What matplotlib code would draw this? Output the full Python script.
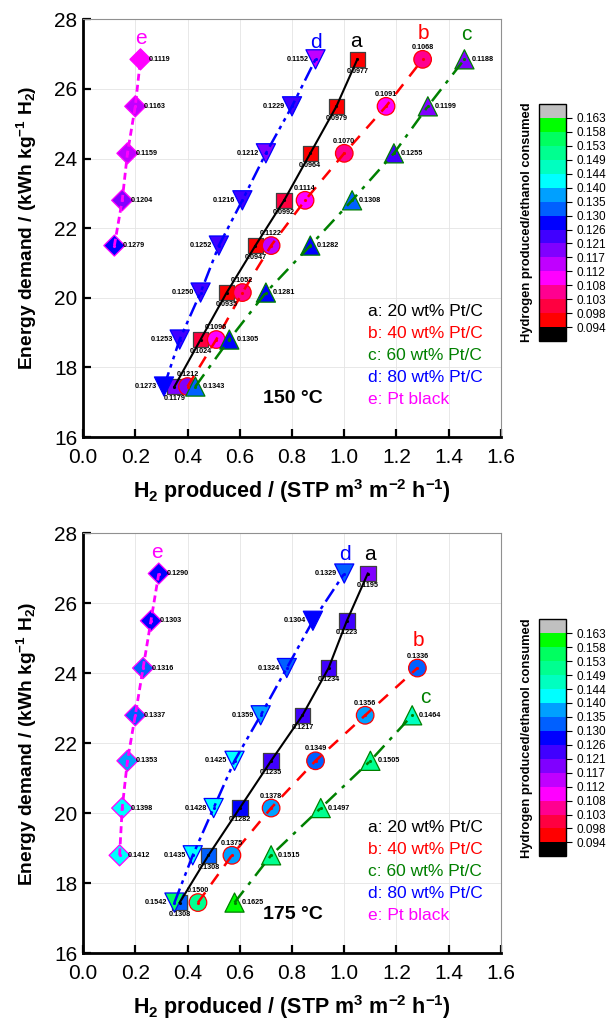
import matplotlib

matplotlib.use("Agg")
import matplotlib.pyplot as plt
from matplotlib.cm import ScalarMappable
from matplotlib.colors import from_levels_and_colors

plt.rcParams["font.family"] = ["Liberation Sans", "DejaVu Sans"]
plt.rcParams["mathtext.default"] = "regular"

# ---- 150 °C panel ----
X150_A = [0.35, 0.45, 0.55, 0.66, 0.77, 0.87, 0.97, 1.05]
Y150_A = [17.45, 18.8, 20.15, 21.5, 22.8, 24.15, 25.5, 26.85]
R150_A = [0.1179, 0.1024, 0.0935, 0.0947, 0.0992, 0.0964, 0.0979, 0.0977]

X150_B = [0.40, 0.51, 0.61, 0.72, 0.85, 1.00, 1.16, 1.30]
Y150_B = [17.45, 18.8, 20.15, 21.5, 22.8, 24.15, 25.5, 26.85]
R150_B = [0.1212, 0.1096, 0.1052, 0.1122, 0.1114, 0.1070, 0.1091, 0.1068]

X150_C = [0.43, 0.56, 0.70, 0.87, 1.03, 1.19, 1.32, 1.46]
Y150_C = [17.45, 18.8, 20.15, 21.5, 22.8, 24.15, 25.5, 26.85]
R150_C = [0.1343, 0.1305, 0.1281, 0.1282, 0.1308, 0.1255, 0.1199, 0.1188]

X150_D = [0.31, 0.37, 0.45, 0.52, 0.61, 0.70, 0.80, 0.89]
Y150_D = [17.45, 18.8, 20.15, 21.5, 22.8, 24.15, 25.5, 26.85]
R150_D = [0.1273, 0.1253, 0.1250, 0.1252, 0.1216, 0.1212, 0.1229, 0.1152]

X150_E = [0.12, 0.15, 0.17, 0.20, 0.22]
Y150_E = [21.5, 22.8, 24.15, 25.5, 26.85]
R150_E = [0.1279, 0.1204, 0.1159, 0.1163, 0.1119]

# ---- 175 °C panel ----
X175_A = [0.37, 0.48, 0.60, 0.72, 0.84, 0.94, 1.01, 1.09]
Y175_A = [17.45, 18.8, 20.15, 21.5, 22.8, 24.15, 25.5, 26.85]
R175_A = [0.1308, 0.1308, 0.1282, 0.1235, 0.1217, 0.1234, 0.1223, 0.1195]

X175_B = [0.44, 0.57, 0.72, 0.89, 1.08, 1.28]
Y175_B = [17.45, 18.8, 20.15, 21.5, 22.8, 24.15]
R175_B = [0.1500, 0.1375, 0.1378, 0.1349, 0.1356, 0.1336]

X175_C = [0.58, 0.72, 0.91, 1.10, 1.26]
Y175_C = [17.45, 18.8, 20.15, 21.5, 22.8]
R175_C = [0.1625, 0.1515, 0.1497, 0.1505, 0.1464]

X175_D = [0.35, 0.42, 0.50, 0.58, 0.68, 0.78, 0.88, 1.00]
Y175_D = [17.45, 18.8, 20.15, 21.5, 22.8, 24.15, 25.5, 26.85]
R175_D = [0.1542, 0.1435, 0.1428, 0.1425, 0.1359, 0.1324, 0.1304, 0.1329]

X175_E = [0.14, 0.15, 0.17, 0.20, 0.23, 0.26, 0.29]
Y175_E = [18.8, 20.15, 21.5, 22.8, 24.15, 25.5, 26.85]
R175_E = [0.1412, 0.1398, 0.1353, 0.1337, 0.1316, 0.1303, 0.1290]

# colour scale (ratio H2 produced / ethanol consumed)
CBAR_BOUNDS = [0.0935, 0.0984, 0.1030, 0.1076, 0.1122, 0.1168, 0.1213, 0.1259,
               0.1306, 0.1350, 0.1396, 0.1442, 0.1488, 0.1533, 0.1579, 0.1626]
CBAR_TICKLABELS = ["0.094", "0.098", "0.103", "0.108", "0.112", "0.117", "0.121", "0.126",
                   "0.130", "0.135", "0.140", "0.144", "0.149", "0.153", "0.158", "0.163"]
CBAR_COLORS = ["#ff0000", "#ff0040", "#ff0090", "#ff00ff", "#c000ff", "#8000ff",
               "#4000ff", "#0000ff", "#0060ff", "#00a0ff", "#00ffff", "#00ffc0",
               "#00ff90", "#00ff60", "#00ff00"]
CBAR_UNDER = "black"
CBAR_OVER = "#c0c0c0"

LEGEND_TEXT = ["a: 20 wt% Pt/C", "b: 40 wt% Pt/C", "c: 60 wt% Pt/C", "d: 80 wt% Pt/C", "e: Pt black"]
SERIES_COLORS = ["black", "red", "#008000", "blue", "magenta"]

cmap, norm = from_levels_and_colors(CBAR_BOUNDS, [CBAR_UNDER] + CBAR_COLORS + [CBAR_OVER], extend="both")

# marker, edge colour, line style, label offset (pt), label alignment
STYLES = {
    "a": dict(marker="s", size=125, edge="#404040", ls="-", lw=1.5, off=(0, -6), ha="center", va="top"),
    "b": dict(marker="o", size=160, edge="red", ls=(0, (5, 4)), lw=1.8, off=(0, 6), ha="center", va="bottom"),
    "c": dict(marker="^", size=190, edge="#008000", ls=(0, (6, 3, 1.5, 3)), lw=1.8, off=(5, 0), ha="left", va="center"),
    "d": dict(marker="v", size=190, edge="blue", ls=(0, (6, 2, 1.5, 2, 1.5, 2)), lw=1.8, off=(-5, 0), ha="right", va="center"),
    "e": dict(marker="D", size=115, edge="magenta", ls=(0, (2.5, 1.5)), lw=2.0, off=(6, 0), ha="left", va="center"),
}


def draw_series(ax, key, xs, ys, ratios, color):
    st = STYLES[key]
    ax.scatter(xs, ys, c=ratios, cmap=cmap, norm=norm, marker=st["marker"], s=st["size"],
               edgecolors=st["edge"], linewidths=0.9, zorder=3)
    ax.plot(xs, ys, color=color, linestyle=st["ls"], linewidth=st["lw"], zorder=4)
    ax.plot(xs, ys, linestyle="none", marker=".", markersize=2.5, color=color, zorder=4)
    for x, y, r in zip(xs, ys, ratios):
        ax.annotate(f"{r:.4f}", (x, y), xytext=st["off"], textcoords="offset points",
                    ha=st["ha"], va=st["va"], fontsize=5.2, fontweight="bold", zorder=5)


def draw_panel(ax, series, letters, temp_label):
    for (key, xs, ys, rs), color in zip(series, SERIES_COLORS):
        draw_series(ax, key, xs, ys, rs, color)

    for key, (lx, ly), color in letters:
        ax.text(lx, ly, key, color=color, fontsize=15, ha="center", va="center")

    for i, (txt, color) in enumerate(zip(LEGEND_TEXT, SERIES_COLORS)):
        ax.text(1.09, 19.6 - i * 0.63, txt, color=color, fontsize=12.5, ha="left", va="center")

    ax.text(0.805, 17.1, temp_label, fontsize=14, fontweight="bold", ha="center", va="center")

    ax.set_xlim(0.0, 1.6)
    ax.set_ylim(16, 28)
    ax.set_xticks([0.0, 0.2, 0.4, 0.6, 0.8, 1.0, 1.2, 1.4, 1.6])
    ax.set_yticks([16, 18, 20, 22, 24, 26, 28])
    ax.xaxis.set_major_formatter(plt.FormatStrFormatter("%.1f"))
    ax.grid(True, color="#e4e4e4", linewidth=0.6, zorder=0)
    ax.set_axisbelow(True)
    ax.tick_params(direction="in", length=6, width=1.6, labelsize=15, top=False, right=False)
    ax.tick_params(axis="x", pad=8)
    ax.tick_params(axis="y", pad=4)
    for side in ["left", "bottom"]:
        ax.spines[side].set_linewidth(2.0)
        ax.spines[side].set_color("black")
    for side in ["top", "right"]:
        ax.spines[side].set_linewidth(0.8)
        ax.spines[side].set_color("#909090")

    ax.set_xlabel("H$_2$ produced / (STP m$^3$ m$^{-2}$ h$^{-1}$)", fontsize=15.5, fontweight="bold", labelpad=7)
    ax.set_ylabel("Energy demand / (kWh kg$^{-1}$ H$_2$)", fontsize=13.8, fontweight="bold", labelpad=11)


def draw_colorbar(fig, rect):
    cax = fig.add_axes(rect)
    sm = ScalarMappable(norm=norm, cmap=cmap)
    cb = fig.colorbar(sm, cax=cax, extend="both", extendrect=True, extendfrac=1 / 15,
                      ticks=CBAR_BOUNDS, drawedges=False)
    cb.ax.set_yticklabels(CBAR_TICKLABELS)
    cb.outline.set_linewidth(1.0)
    cb.ax.tick_params(labelsize=8.5, length=4, width=0.8, direction="out")
    cb.ax.yaxis.set_label_position("left")
    cb.set_label("Hydrogen produced/ethanol consumed", fontsize=9.3, fontweight="bold", labelpad=4)
    return cb


fig = plt.figure(figsize=(6.1, 10.22), dpi=100)

ax_top = fig.add_axes([0.1361, 0.5724, 0.6852, 0.4087])
draw_panel(
    ax_top,
    [("a", X150_A, Y150_A, R150_A), ("b", X150_B, Y150_B, R150_B), ("c", X150_C, Y150_C, R150_C),
     ("d", X150_D, Y150_D, R150_D), ("e", X150_E, Y150_E, R150_E)],
    [("a", (1.046, 27.35), "black"), ("b", (1.304, 27.6), "red"), ("c", (1.467, 27.55), "#008000"),
     ("d", (0.893, 27.32), "blue"), ("e", (0.221, 27.45), "magenta")],
    "150 °C",
)

ax_bot = fig.add_axes([0.1361, 0.0672, 0.6852, 0.4110])
draw_panel(
    ax_bot,
    [("a", X175_A, Y175_A, R175_A), ("b", X175_B, Y175_B, R175_B), ("c", X175_C, Y175_C, R175_C),
     ("d", X175_D, Y175_D, R175_D), ("e", X175_E, Y175_E, R175_E)],
    [("a", (1.10, 27.4), "black"), ("b", (1.285, 24.95), "red"), ("c", (1.31, 23.3), "#008000"),
     ("d", (1.004, 27.4), "blue"), ("e", (0.283, 27.45), "magenta")],
    "175 °C",
)

draw_colorbar(fig, [0.8836, 0.6663, 0.0443, 0.2319])
draw_colorbar(fig, [0.8836, 0.1621, 0.0443, 0.2319])

fig.savefig("out.png", dpi=100)
plt.close(fig)
